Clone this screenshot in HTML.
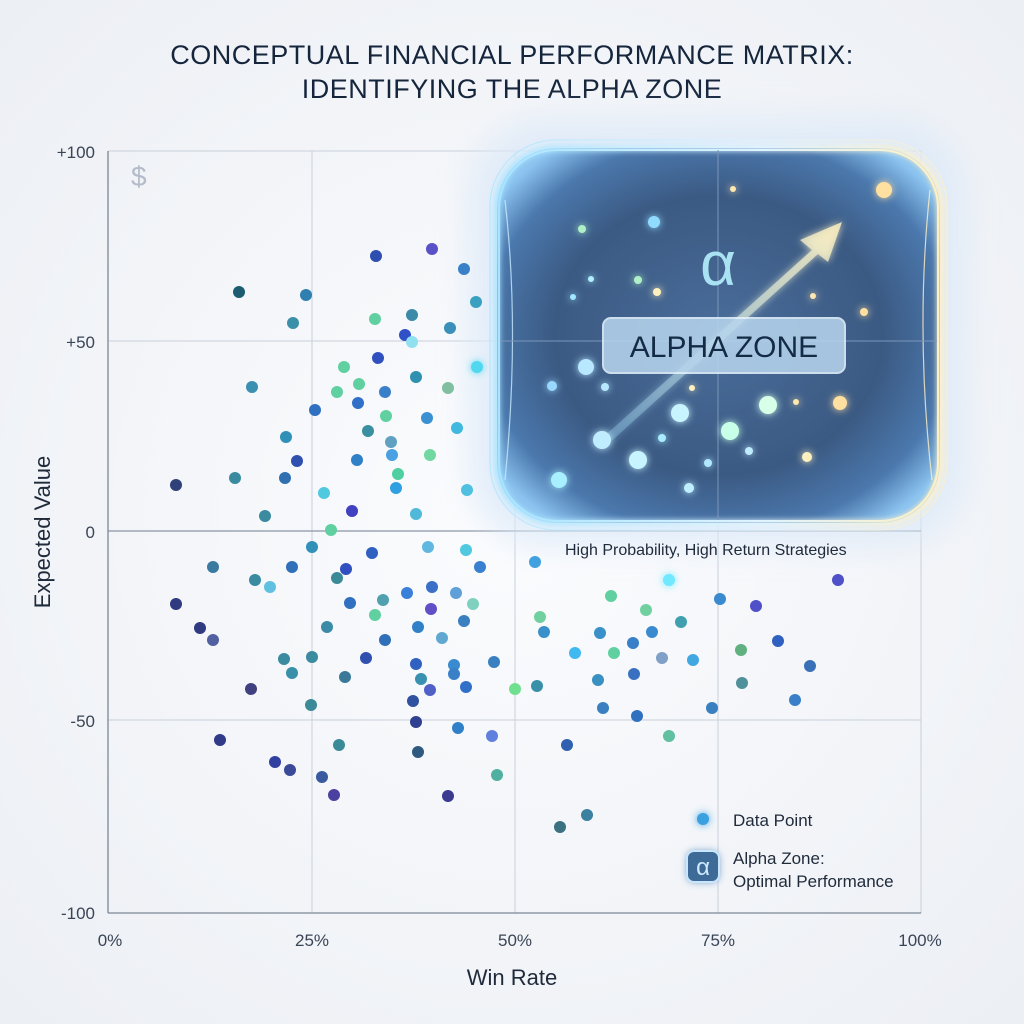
<!DOCTYPE html>
<html><head><meta charset="utf-8"><style>
html,body{margin:0;padding:0;width:1024px;height:1024px;overflow:hidden;background:#f3f5f9}
svg{display:block}
text{font-family:"Liberation Sans",sans-serif}
</style></head><body>
<svg width="1024" height="1024" viewBox="0 0 1024 1024" xmlns="http://www.w3.org/2000/svg">
<defs>
<radialGradient id="bg" cx="0.5" cy="0.5" r="0.7"><stop offset="0" stop-color="#fbfcfe"/><stop offset="1" stop-color="#eceff4"/></radialGradient>
<radialGradient id="zone" cx="0.5" cy="0.5" r="0.62"><stop offset="0" stop-color="#4a6d9a"/><stop offset="0.6" stop-color="#3b5a83"/><stop offset="0.85" stop-color="#4b78ad"/><stop offset="1" stop-color="#8cc4f0"/></radialGradient>
<filter id="blur" x="-30%" y="-30%" width="160%" height="160%"><feGaussianBlur stdDeviation="16"/></filter>
<filter id="blur2" x="-30%" y="-30%" width="160%" height="160%"><feGaussianBlur stdDeviation="3"/></filter>
<filter id="glow" x="-100%" y="-100%" width="300%" height="300%"><feGaussianBlur stdDeviation="4" result="b"/><feMerge><feMergeNode in="b"/><feMergeNode in="SourceGraphic"/></feMerge></filter>
<linearGradient id="edge" x1="0" y1="0" x2="1" y2="0"><stop offset="0" stop-color="#a8e4ff"/><stop offset="0.6" stop-color="#dff4ff"/><stop offset="1" stop-color="#fff0c4"/></linearGradient>
<linearGradient id="arrow" x1="0" y1="1" x2="1" y2="0"><stop offset="0" stop-color="#9fdcff" stop-opacity="0.3"/><stop offset="1" stop-color="#fff0c0"/></linearGradient>
</defs>
<rect width="1024" height="1024" fill="url(#bg)"/>
<text x="512" y="64" text-anchor="middle" font-size="27" fill="#15253c" letter-spacing="0.5">CONCEPTUAL FINANCIAL PERFORMANCE MATRIX:</text>
<text x="512" y="98" text-anchor="middle" font-size="27" fill="#15253c" letter-spacing="0.5">IDENTIFYING THE ALPHA ZONE</text>
<g stroke="#c9d0da" stroke-width="1">
<line x1="312" y1="151" x2="312" y2="913"/><line x1="515" y1="151" x2="515" y2="913"/><line x1="718" y1="151" x2="718" y2="913"/><line x1="921" y1="151" x2="921" y2="913"/>
<line x1="108" y1="151" x2="921" y2="151"/><line x1="108" y1="341" x2="921" y2="341"/><line x1="108" y1="720" x2="921" y2="720"/>
</g>
<line x1="108" y1="531" x2="921" y2="531" stroke="#8a95a5" stroke-width="1.2"/>
<line x1="108" y1="151" x2="108" y2="913" stroke="#7c8796" stroke-width="1.3"/>
<line x1="108" y1="913" x2="921" y2="913" stroke="#7c8796" stroke-width="1.3"/>
<text x="131" y="186" font-size="28" fill="#b3bcc8">$</text>
<g font-size="17" fill="#3a4556" text-anchor="end">
<text x="95" y="158">+100</text><text x="95" y="348">+50</text><text x="95" y="538">0</text><text x="95" y="727">-50</text><text x="95" y="919">-100</text>
</g>
<g font-size="17" fill="#3a4556" text-anchor="middle">
<text x="110" y="946">0%</text><text x="312" y="946">25%</text><text x="515" y="946">50%</text><text x="718" y="946">75%</text><text x="920" y="946">100%</text>
</g>
<text x="512" y="985" text-anchor="middle" font-size="22" fill="#1f2a3a">Win Rate</text>
<text transform="translate(50,532) rotate(-90)" text-anchor="middle" font-size="22" fill="#1f2a3a">Expected Value</text>
<rect x="470" y="120" width="495" height="425" rx="75" fill="#dce9f8" opacity="0.8" filter="url(#blur)"/>
<rect x="497" y="148" width="443" height="375" rx="60" fill="url(#zone)"/>
<rect x="497" y="148" width="443" height="375" rx="60" fill="none" stroke="url(#edge)" stroke-width="6" filter="url(#blur2)"/>
<rect x="499" y="150" width="439" height="371" rx="58" fill="none" stroke="url(#edge)" stroke-width="2"/>
<rect x="490" y="140" width="457" height="390" rx="66" fill="none" stroke="url(#edge)" stroke-width="1.2" opacity="0.7"/>
<path d="M505 200 Q520 330 505 480" fill="none" stroke="#c8ecff" stroke-width="1.2" opacity="0.8"/>
<path d="M930 190 Q915 330 932 480" fill="none" stroke="#fff0c8" stroke-width="1.2" opacity="0.8"/>
<line x1="718" y1="150" x2="718" y2="520" stroke="#7a96bb" stroke-width="1"/>
<line x1="500" y1="341" x2="937" y2="341" stroke="#7a96bb" stroke-width="1"/>
<g filter="url(#glow)">
<path d="M600 440 L812 250 L800 240 L842 222 L828 262 L818 254 L606 446 Z" fill="url(#arrow)" opacity="0.85"/>
</g>
<text x="718" y="285" text-anchor="middle" font-family="DejaVu Serif,serif" font-size="62" fill="#a9e2f2">α</text>
<rect x="603" y="318" width="242" height="55" rx="8" fill="#b8d6ee" opacity="0.85" stroke="#e6f4ff" stroke-width="2"/>
<text x="724" y="357" text-anchor="middle" font-size="30" fill="#132b45">ALPHA ZONE</text>
<g filter="url(#glow)">
<circle cx="552" cy="386" r="5" fill="#9ad8ff"/><circle cx="586" cy="367" r="8" fill="#b8e8ff"/><circle cx="605" cy="387" r="4" fill="#b8e8ff"/>
<circle cx="692" cy="388" r="3" fill="#fff0c0"/><circle cx="768" cy="405" r="9" fill="#d8ffe8"/><circle cx="796" cy="402" r="3" fill="#ffe8b0"/>
<circle cx="840" cy="403" r="7" fill="#ffe0a0"/><circle cx="680" cy="413" r="9" fill="#c8f4ff"/><circle cx="602" cy="440" r="9" fill="#c0ecff"/>
<circle cx="662" cy="438" r="4" fill="#a8ecff"/><circle cx="730" cy="431" r="9" fill="#c8ffe8"/><circle cx="749" cy="451" r="4" fill="#c0ecff"/>
<circle cx="638" cy="460" r="9" fill="#c8f4ff"/><circle cx="708" cy="463" r="4" fill="#b0e8ff"/><circle cx="807" cy="457" r="5" fill="#fff0c0"/>
<circle cx="559" cy="480" r="8" fill="#a8f0ff"/><circle cx="689" cy="488" r="5" fill="#c0f0ff"/>
<circle cx="582" cy="229" r="4" fill="#b0f0c8"/><circle cx="654" cy="222" r="6" fill="#90dcff"/><circle cx="733" cy="189" r="3" fill="#ffe8b0"/>
<circle cx="884" cy="190" r="8" fill="#ffe0a0"/><circle cx="573" cy="297" r="3" fill="#a0e8ff"/><circle cx="591" cy="279" r="3" fill="#b0f0ff"/>
<circle cx="638" cy="280" r="4" fill="#b0f0c8"/><circle cx="657" cy="292" r="4" fill="#fff0c0"/><circle cx="813" cy="296" r="3" fill="#ffe8b0"/>
<circle cx="864" cy="312" r="4" fill="#ffe0a0"/><circle cx="669" cy="580" r="6" fill="#70e8ff"/><circle cx="477" cy="367" r="6" fill="#50d8f0"/>
</g>
<text x="565" y="555" font-size="16" fill="#1f2a3a">High Probability, High Return Strategies</text>
<g>
<circle cx="432" cy="249" r="6" fill="#5a50c8"/><circle cx="376" cy="256" r="6" fill="#2f4fb0"/><circle cx="464" cy="269" r="6" fill="#3a80c8"/>
<circle cx="239" cy="292" r="6" fill="#1d5c70"/><circle cx="306" cy="295" r="6" fill="#2f80b0"/><circle cx="476" cy="302" r="6" fill="#3aa0c0"/>
<circle cx="293" cy="323" r="6" fill="#3a90a8"/><circle cx="375" cy="319" r="6" fill="#60d0a0"/><circle cx="412" cy="315" r="6" fill="#3a8aa8"/>
<circle cx="405" cy="335" r="6" fill="#3050c8"/><circle cx="450" cy="328" r="6" fill="#3a90b8"/><circle cx="412" cy="342" r="6" fill="#90e0f0"/>
<circle cx="252" cy="387" r="6" fill="#3a90b0"/><circle cx="315" cy="410" r="6" fill="#2f70c0"/><circle cx="344" cy="367" r="6" fill="#60d0a0"/>
<circle cx="337" cy="392" r="6" fill="#60d0a0"/><circle cx="359" cy="384" r="6" fill="#60d0a0"/><circle cx="358" cy="403" r="6" fill="#3070c8"/>
<circle cx="378" cy="358" r="6" fill="#3050c0"/><circle cx="385" cy="392" r="6" fill="#3a80c8"/><circle cx="386" cy="416" r="6" fill="#60d0a0"/>
<circle cx="416" cy="377" r="6" fill="#3090b0"/><circle cx="427" cy="418" r="6" fill="#3a90d0"/><circle cx="448" cy="388" r="6" fill="#80c0a0"/>
<circle cx="457" cy="428" r="6" fill="#40b8e0"/><circle cx="286" cy="437" r="6" fill="#3090b8"/><circle cx="368" cy="431" r="6" fill="#3a8fa0"/>
<circle cx="391" cy="442" r="6" fill="#60a0c0"/><circle cx="392" cy="455" r="6" fill="#4aa0e0"/><circle cx="430" cy="455" r="6" fill="#70d8a0"/>
<circle cx="357" cy="460" r="6" fill="#3080c8"/><circle cx="398" cy="474" r="6" fill="#50d0a0"/><circle cx="396" cy="488" r="6" fill="#30a0e0"/>
<circle cx="467" cy="490" r="6" fill="#50c0e0"/><circle cx="297" cy="461" r="6" fill="#3050b0"/><circle cx="285" cy="478" r="6" fill="#3070b0"/>
<circle cx="176" cy="485" r="6" fill="#304078"/><circle cx="235" cy="478" r="6" fill="#3a8aa0"/><circle cx="265" cy="516" r="6" fill="#3a8aa0"/>
<circle cx="324" cy="493" r="6" fill="#50c8e0"/><circle cx="352" cy="511" r="6" fill="#4040c0"/><circle cx="331" cy="530" r="6" fill="#60d0a0"/>
<circle cx="416" cy="514" r="6" fill="#50b8d8"/><circle cx="312" cy="547" r="6" fill="#3090b8"/><circle cx="372" cy="553" r="6" fill="#3060c0"/>
<circle cx="428" cy="547" r="6" fill="#60b8e0"/><circle cx="466" cy="550" r="6" fill="#50c8e0"/><circle cx="480" cy="567" r="6" fill="#3a80d0"/>
<circle cx="346" cy="569" r="6" fill="#3050c0"/><circle cx="292" cy="567" r="6" fill="#3070b8"/><circle cx="213" cy="567" r="6" fill="#3a7aa0"/>
<circle cx="255" cy="580" r="6" fill="#3a8aa0"/><circle cx="270" cy="587" r="6" fill="#60c0e0"/><circle cx="337" cy="578" r="6" fill="#3a8a98"/>
<circle cx="407" cy="593" r="6" fill="#3a80d8"/><circle cx="432" cy="587" r="6" fill="#3a70c8"/><circle cx="456" cy="593" r="6" fill="#60a0d8"/>
<circle cx="383" cy="600" r="6" fill="#50a0b0"/><circle cx="350" cy="603" r="6" fill="#3070c0"/><circle cx="473" cy="604" r="6" fill="#80d0c0"/>
<circle cx="431" cy="609" r="6" fill="#6050c8"/><circle cx="176" cy="604" r="6" fill="#303a80"/><circle cx="200" cy="628" r="6" fill="#303a80"/>
<circle cx="213" cy="640" r="6" fill="#5060a0"/><circle cx="327" cy="627" r="6" fill="#3a8aa8"/><circle cx="385" cy="640" r="6" fill="#3070b8"/>
<circle cx="418" cy="627" r="6" fill="#3080c8"/><circle cx="442" cy="638" r="6" fill="#60a8d0"/><circle cx="464" cy="621" r="6" fill="#3a80c0"/>
<circle cx="375" cy="615" r="6" fill="#60d0a0"/><circle cx="284" cy="659" r="6" fill="#3a8aa0"/><circle cx="312" cy="657" r="6" fill="#3a8aa0"/>
<circle cx="366" cy="658" r="6" fill="#3050b0"/><circle cx="416" cy="664" r="6" fill="#3060c0"/><circle cx="454" cy="665" r="6" fill="#3a8ad0"/>
<circle cx="494" cy="662" r="6" fill="#3a80c0"/><circle cx="292" cy="673" r="6" fill="#3a90a8"/><circle cx="345" cy="677" r="6" fill="#3a7a98"/>
<circle cx="421" cy="679" r="6" fill="#3a90b0"/><circle cx="454" cy="674" r="6" fill="#3a80c8"/><circle cx="430" cy="690" r="6" fill="#5060c8"/>
<circle cx="466" cy="687" r="6" fill="#3070c8"/><circle cx="251" cy="689" r="6" fill="#404080"/><circle cx="311" cy="705" r="6" fill="#3a8a98"/>
<circle cx="413" cy="701" r="6" fill="#3050a0"/><circle cx="416" cy="722" r="6" fill="#304090"/><circle cx="458" cy="728" r="6" fill="#3080c8"/>
<circle cx="492" cy="736" r="6" fill="#6080e0"/><circle cx="220" cy="740" r="6" fill="#303a88"/><circle cx="339" cy="745" r="6" fill="#3a8a98"/>
<circle cx="418" cy="752" r="6" fill="#2f5a80"/><circle cx="275" cy="762" r="6" fill="#3040a0"/><circle cx="290" cy="770" r="6" fill="#3a4a98"/>
<circle cx="322" cy="777" r="6" fill="#3a5aa0"/><circle cx="497" cy="775" r="6" fill="#50b0a0"/><circle cx="334" cy="795" r="6" fill="#4a40a0"/>
<circle cx="448" cy="796" r="6" fill="#3a3a90"/><circle cx="515" cy="689" r="6" fill="#70e090"/><circle cx="537" cy="686" r="6" fill="#3a90a8"/>
<circle cx="535" cy="562" r="6" fill="#40a0e0"/><circle cx="540" cy="617" r="6" fill="#70d0a0"/><circle cx="544" cy="632" r="6" fill="#3a90c8"/>
<circle cx="575" cy="653" r="6" fill="#40b8f0"/><circle cx="598" cy="680" r="6" fill="#3a90c0"/><circle cx="567" cy="745" r="6" fill="#3060b0"/>
<circle cx="603" cy="708" r="6" fill="#3a80c0"/><circle cx="614" cy="653" r="6" fill="#60d0a0"/><circle cx="611" cy="596" r="6" fill="#60d0a0"/>
<circle cx="600" cy="633" r="6" fill="#3a90c8"/><circle cx="633" cy="643" r="6" fill="#3a80c8"/><circle cx="634" cy="674" r="6" fill="#3a70c0"/>
<circle cx="637" cy="716" r="6" fill="#3070c0"/><circle cx="646" cy="610" r="6" fill="#70d0a0"/><circle cx="652" cy="632" r="6" fill="#3a8ad0"/>
<circle cx="662" cy="658" r="6" fill="#80a0c8"/><circle cx="681" cy="622" r="6" fill="#40a0b0"/><circle cx="693" cy="660" r="6" fill="#40a8e0"/>
<circle cx="720" cy="599" r="6" fill="#3a8ad0"/><circle cx="712" cy="708" r="6" fill="#3a80c0"/><circle cx="669" cy="736" r="6" fill="#60c0a0"/>
<circle cx="741" cy="650" r="6" fill="#60b080"/><circle cx="742" cy="683" r="6" fill="#50909a"/><circle cx="756" cy="606" r="6" fill="#5050c8"/>
<circle cx="778" cy="641" r="6" fill="#3060c0"/><circle cx="838" cy="580" r="6" fill="#5050c8"/><circle cx="810" cy="666" r="6" fill="#3a70b8"/>
<circle cx="795" cy="700" r="6" fill="#3a80c8"/><circle cx="560" cy="827" r="6" fill="#3a7080"/><circle cx="587" cy="815" r="6" fill="#3a80a0"/>
</g>
<circle cx="703" cy="819" r="6" fill="#3aa0e0" filter="url(#glow)"/>
<text x="733" y="826" font-size="17" fill="#1f2a3a">Data Point</text>
<rect x="687" y="851" width="32" height="31" rx="7" fill="#3d6a96" stroke="#c8e6ff" stroke-width="2" filter="url(#glow)"/>
<text x="703" y="875" text-anchor="middle" font-family="DejaVu Serif,serif" font-size="24" fill="#cfeaff">α</text>
<text x="733" y="864" font-size="17" fill="#1f2a3a">Alpha Zone:</text>
<text x="733" y="887" font-size="17" fill="#1f2a3a">Optimal Performance</text>
</svg>
</body></html>
